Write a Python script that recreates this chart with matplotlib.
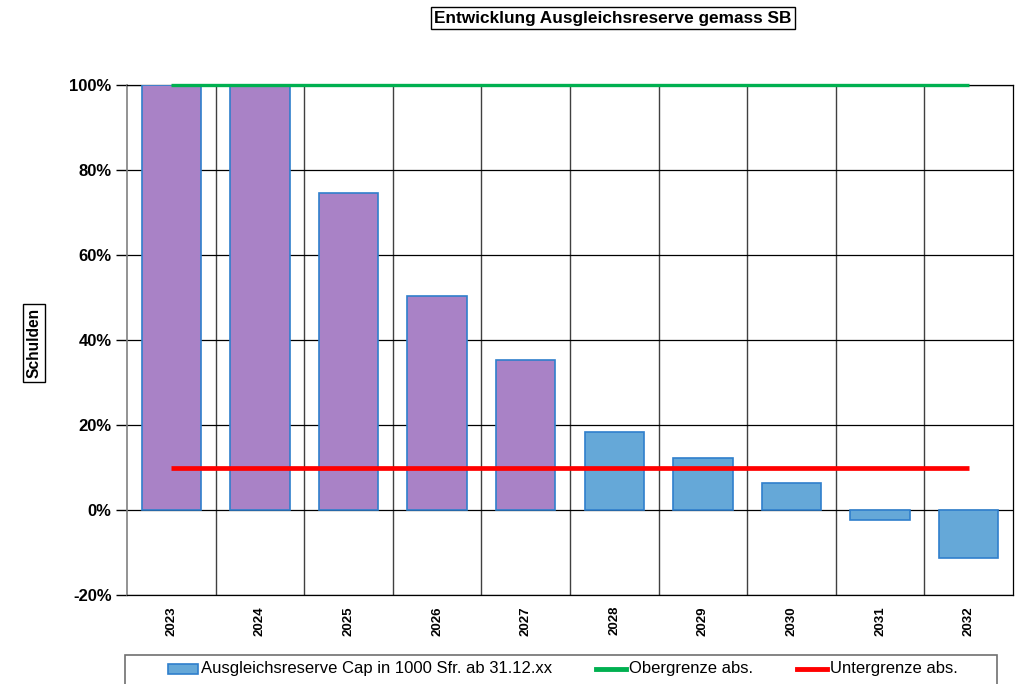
import matplotlib
matplotlib.use("Agg")
import matplotlib.pyplot as plt
from matplotlib.patches import Rectangle
from matplotlib.lines import Line2D
import numpy as np

years = ["2023", "2024", "2025", "2026", "2027", "2028", "2029", "2030", "2031", "2032"]
reserve_pct = [100.0, 100.0, 74.6, 50.4, 35.3, 18.4, 12.2, 6.4, -2.4, -11.3]
upper_limit = [100.0] * 10
lower_limit = [10.0] * 10
purple_years = ["2023", "2024", "2025", "2026", "2027"]
legend_labels = ["Ausgleichsreserve Cap in 1000 Sfr. ab 31.12.xx", "Obergrenze abs.", "Untergrenze abs."]

purple = "#A982C6"
blue = "#65A8D8"
edge = "#2F7FCC"
green = "#00B050"
red = "#FF0000"

plt.rcParams['font.family'] = ['Liberation Sans', 'DejaVu Sans']

fig = plt.figure(figsize=(10.24, 6.84), dpi=100)
ax = fig.add_axes([127/1024, 1-595/684, (1013-127)/1024, (595-85)/684])

x = np.arange(len(years))
colors = [purple if y in purple_years else blue for y in years]
ax.bar(x, reserve_pct, width=0.67, color=colors, edgecolor=edge, linewidth=1.2, zorder=3)
ax.plot(x, upper_limit, color=green, lw=2.4, zorder=5, solid_capstyle='butt', clip_on=False)
ax.plot(x, lower_limit, color=red, lw=3.4, zorder=5, solid_capstyle='butt')

ax.set_xlim(-0.5, len(years)-0.5)
ax.set_ylim(-20, 100)
ax.set_yticks(np.arange(-20, 101, 20))
ax.set_yticklabels([f"{v}%" for v in range(-20, 101, 20)], fontsize=12, fontweight='bold')
ax.set_xticks(x)
ax.set_xticklabels(years, rotation=90, fontsize=9.5, fontweight='bold')
ax.tick_params(axis='x', length=0, pad=8)
ax.tick_params(axis='y', length=8, width=1, color='black', pad=3, direction='out')
ax.set_xticks(np.arange(0.5, len(years)-1, 1), minor=True)
ax.tick_params(axis='x', which='minor', length=0)
ax.grid(True, which='major', axis='y', color='black', lw=0.9, zorder=1)
ax.grid(True, which='minor', axis='x', color='#404040', lw=1.0, zorder=1)
for s in ['top', 'right', 'bottom']:
    ax.spines[s].set_color('black')
    ax.spines[s].set_linewidth(0.9)
ax.spines['left'].set_color('#808080')
ax.spines['left'].set_linewidth(1.2)

# title box
fig.text(613/1024, 1-18/684, "Entwicklung Ausgleichsreserve gemass SB", ha='center', va='center',
         fontsize=12.4, fontweight='bold',
         bbox=dict(boxstyle='square,pad=0.22', facecolor='white', edgecolor='black', lw=1))

# y label box
fig.text(34/1024, 1-343/684, "Schulden", rotation=90, ha='center', va='center',
         fontsize=11.2, fontweight='bold',
         bbox=dict(boxstyle='square,pad=0.25', facecolor='white', edgecolor='black', lw=1))

# legend frame and entries (manual)
T = fig.transFigure
fig.patches.append(Rectangle((125/1024, -0.02), (997-125)/1024, 0.02 + (684-655)/684,
                             transform=T, facecolor='white', edgecolor='#707070', lw=1.2))
ly = 1 - 669/684
fig.patches.append(Rectangle((168/1024, 1-674/684), 30/1024, 10/684, transform=T,
                             facecolor=blue, edgecolor=edge, lw=1.2))
fig.lines.append(Line2D([596/1024, 626/1024], [ly, ly], transform=T, color=green, lw=3.5))
fig.lines.append(Line2D([797/1024, 827/1024], [ly, ly], transform=T, color=red, lw=3.5))
for xs, lab in zip([201, 629, 830], legend_labels):
    fig.text(xs/1024, ly, lab, ha='left', va='center', fontsize=12)

fig.savefig("out.png", dpi=100)
